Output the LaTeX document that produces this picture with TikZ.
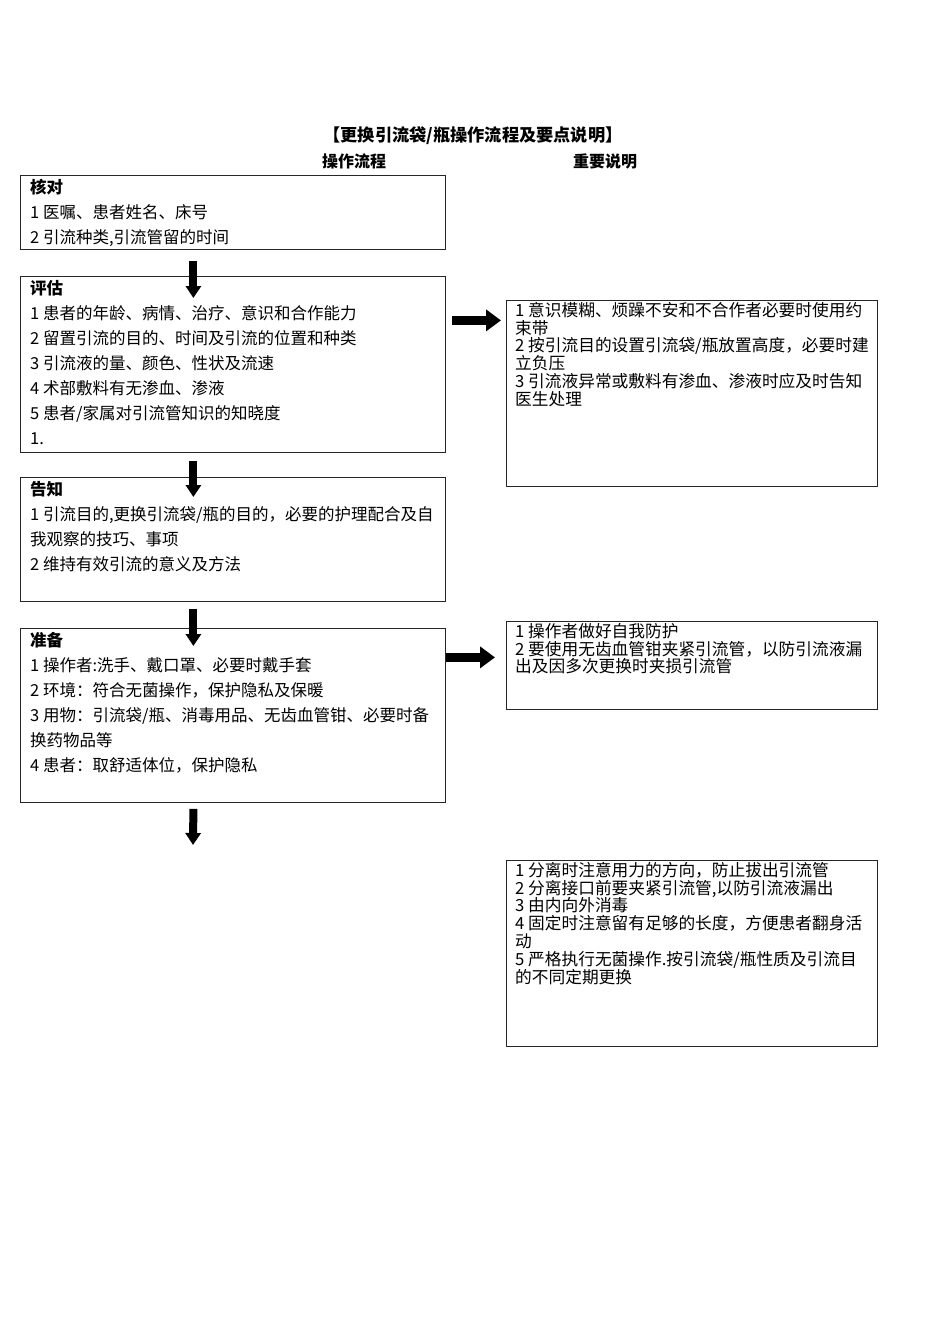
\documentclass[tikz,border=0pt]{standalone}
\usepackage{fontspec}
\setmainfont{Noto Sans CJK SC}
\usetikzlibrary{arrows.meta,positioning}
\tikzset{
  flowbox/.style={draw=black!85,line width=.8pt,minimum width=425pt,anchor=north west,inner sep=0pt},
  notebox/.style={draw=black!85,line width=.8pt,minimum width=371pt,anchor=north west,inner sep=0pt},
  flowtext/.style={anchor=north west,align=left,inner sep=0pt,font=\fontsize{16.5}{25}\selectfont},
  notetext/.style={anchor=north west,align=left,inner sep=0pt,font=\fontsize{16.7}{17.8}\selectfont},
  downarrow/.style={line width=8pt,-{Triangle[length=12pt,width=15pt]}},
  rightarrow/.style={line width=9pt,-{Triangle[length=15pt,width=21pt]}},
  heading/.style={font=\bfseries\fontsize{16}{18}\selectfont}
}
\begin{document}
\begin{tikzpicture}[x=1pt,y=-1pt]
  \useasboundingbox[fill=white] (0,0) rectangle (950,1344);
  % titles
  \node[font=\bfseries\fontsize{17.2}{19}\selectfont] (title) at (473,136) {【更换引流袋/瓶操作流程及要点说明】};
  \node[heading] (colleft) at (354,161) {操作流程};
  \node[heading] (colright) at (605,161) {重要说明};
  % operation steps
  \node[flowbox,minimum height=74pt] (hedui) at (20,175) {};
  \node[flowtext] (hedui-t) at (30,179) {\textbf{核对}\\1 医嘱、患者姓名、床号\\2 引流种类,引流管留的时间};
  \node[flowbox,minimum height=176pt] (pinggu) at (20,276) {};
  \node[flowtext] (pinggu-t) at (30,280) {\textbf{评估}\\1 患者的年龄、病情、治疗、意识和合作能力\\2 留置引流的目的、时间及引流的位置和种类\\3 引流液的量、颜色、性状及流速\\4 术部敷料有无渗血、渗液\\5 患者/家属对引流管知识的知晓度\\1.};
  \node[flowbox,minimum height=124pt] (gaozhi) at (20,477) {};
  \node[flowtext] (gaozhi-t) at (30,481) {\textbf{告知}\\1 引流目的,更换引流袋/瓶的目的，必要的护理配合及自\\我观察的技巧、事项\\2 维持有效引流的意义及方法};
  \node[flowbox,minimum height=174pt] (zhunbei) at (20,628) {};
  \node[flowtext] (zhunbei-t) at (30,632) {\textbf{准备}\\1 操作者:洗手、戴口罩、必要时戴手套\\2 环境：符合无菌操作，保护隐私及保暖\\3 用物：引流袋/瓶、消毒用品、无齿血管钳、必要时备\\换药物品等\\4 患者：取舒适体位，保护隐私};
  % notes
  \node[notebox,minimum height=186pt] (shuoming1) at (506,300) {};
  \node[notetext] (shuoming1-t) at (515,302) {1 意识模糊、烦躁不安和不合作者必要时使用约\\束带\\2 按引流目的设置引流袋/瓶放置高度，必要时建\\立负压\\3 引流液异常或敷料有渗血、渗液时应及时告知\\医生处理};
  \node[notebox,minimum height=88pt] (shuoming2) at (506,621) {};
  \node[notetext] (shuoming2-t) at (515,623) {1 操作者做好自我防护\\2 要使用无齿血管钳夹紧引流管，以防引流液漏\\出及因多次更换时夹损引流管};
  \node[notebox,minimum height=186pt] (shuoming3) at (506,860) {};
  \node[notetext] (shuoming3-t) at (515,862) {1 分离时注意用力的方向，防止拔出引流管\\2 分离接口前要夹紧引流管,以防引流液漏出\\3 由内向外消毒\\4 固定时注意留有足够的长度，方便患者翻身活\\动\\5 严格执行无菌操作.按引流袋/瓶性质及引流目\\的不同定期更换};
  % arrows
  \draw[downarrow] ([xshift=-39.5pt,yshift=-11pt]hedui.south) -- ([xshift=-39.5pt,yshift=-22pt]pinggu.north);
  \draw[downarrow] ([xshift=-39.5pt,yshift=-8pt]pinggu.south) -- ([xshift=-39.5pt,yshift=-20pt]gaozhi.north);
  \draw[downarrow] ([xshift=-39.5pt,yshift=-7pt]gaozhi.south) -- ([xshift=-39.5pt,yshift=-18pt]zhunbei.north);
  \coordinate (next) at (193,845);
  \draw[downarrow] ([xshift=-39.5pt,yshift=-6pt]zhunbei.south) -- (next);
  \draw[rightarrow] ([shift={(6pt,44pt)}]pinggu.east) coordinate (r1) -- ([xshift=-5pt]r1 -| shuoming1.west);
  \draw[rightarrow] ([shift={(0pt,58pt)}]zhunbei.east) coordinate (r2) -- ([xshift=-11pt]r2 -| shuoming2.west);
\end{tikzpicture}
\end{document}
